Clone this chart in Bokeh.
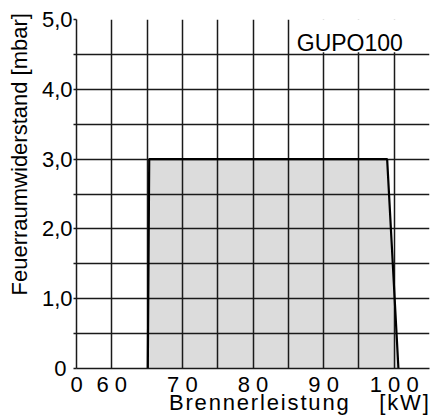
from bokeh.plotting import figure
from bokeh.models import FixedTicker, Range1d, Label
from bokeh.embed import file_html
from bokeh.resources import INLINE

NB = "\u00a0"      # non-breaking space (not collapsed in SVG)
HS = "\u200a"      # hair space (letter spacing)

# ---- data ----
x_ticks = [55, 60, 65, 70, 75, 80, 85, 90, 95, 100, 105]
x_tick_labels = {55: "0", 60: "6 0", 70: "7 0", 80: "8 0", 90: "9 0", 100: "1 0 0"}
y_ticks = [0, 0.5, 1.0, 1.5, 2.0, 2.5, 3.0, 3.5, 4.0, 4.5, 5.0]
y_tick_labels = {0: "0 ", 1: "1,0", 2: "2,0", 3: "3,0", 4: "4,0", 5: "5,0"}
area_x = [65.1, 65.3, 99.0, 100.6]   # Brennerleistung [kW]
area_y = [0.0, 3.0, 3.0, 0.0]        # Feuerraumwiderstand [mbar]
series_name = "GUPO100"
x_title = "Brennerleistung [kW]"
y_title = "Feuerraumwiderstand [mbar]"

FONT = "Liberation Sans"
x_title_spaced = NB * 15 + (NB * 5).join(HS.join(w) for w in x_title.split(" "))
y_title_shifted = NB * 13 + y_title

W, H = 431, 419
p = figure(width=W, height=H, output_backend="svg", toolbar_location=None,
           x_range=Range1d(55, 105), y_range=Range1d(0, 5),
           min_border_left=76, min_border_right=2, min_border_top=19, min_border_bottom=51)
p.outline_line_color = None
p.background_fill_color = "white"

# grid
for g in (p.xgrid, p.ygrid):
    g.grid_line_color = "#1a1a1a"
    g.grid_line_width = 1.5
p.xgrid.ticker = FixedTicker(ticks=x_ticks)
p.ygrid.ticker = FixedTicker(ticks=y_ticks)

# axes
xa = p.xaxis[0]
xa.ticker = FixedTicker(ticks=x_ticks)
xa.major_label_overrides = {t: x_tick_labels.get(t, "").replace(" ", NB) for t in x_ticks}
xa.major_tick_out = 0
xa.major_tick_in = 0
xa.minor_tick_out = 0
xa.minor_tick_in = 0
xa.major_label_standoff = 3
xa.axis_label = x_title_spaced
xa.axis_label_standoff = -10
xa.axis_line_color = "#1a1a1a"
xa.axis_line_width = 1.5

ya = p.yaxis[0]
ya.ticker = FixedTicker(ticks=y_ticks)
ya.major_label_overrides = {t: y_tick_labels.get(t, "").replace(" ", NB) for t in y_ticks}
ya.major_tick_out = 3
ya.major_tick_in = 0
ya.minor_tick_out = 0
ya.minor_tick_in = 0
ya.major_tick_line_color = "#1a1a1a"
ya.major_tick_line_width = 1.5
ya.major_label_standoff = 1
ya.axis_label = y_title_shifted
ya.axis_label_standoff = 7
ya.axis_line_color = "#1a1a1a"
ya.axis_line_width = 1.5

for ax in (xa, ya):
    ax.major_label_text_font = FONT
    ax.major_label_text_font_size = "22px"
    ax.major_label_text_color = "black"
    ax.axis_label_text_font = FONT
    ax.axis_label_text_font_size = "22px"
    ax.axis_label_text_font_style = "normal"
    ax.axis_label_text_color = "black"

# operating area
p.patch(area_x, area_y, fill_color="#dcdcdc", line_color=None, level="image")
p.line(area_x, area_y, line_color="black", line_width=2.2)

# label box
p.quad(left=[85.3], right=[104.8], bottom=[4.53], top=[5.1],
       fill_color="white", line_color=None)
p.add_layout(Label(x=86.2, y=4.66, text=series_name, text_font=FONT,
                   text_font_size="23px", text_color="black",
                   text_align="left", text_baseline="alphabetic"))

open("out.html", "w").write(file_html(p, INLINE))
